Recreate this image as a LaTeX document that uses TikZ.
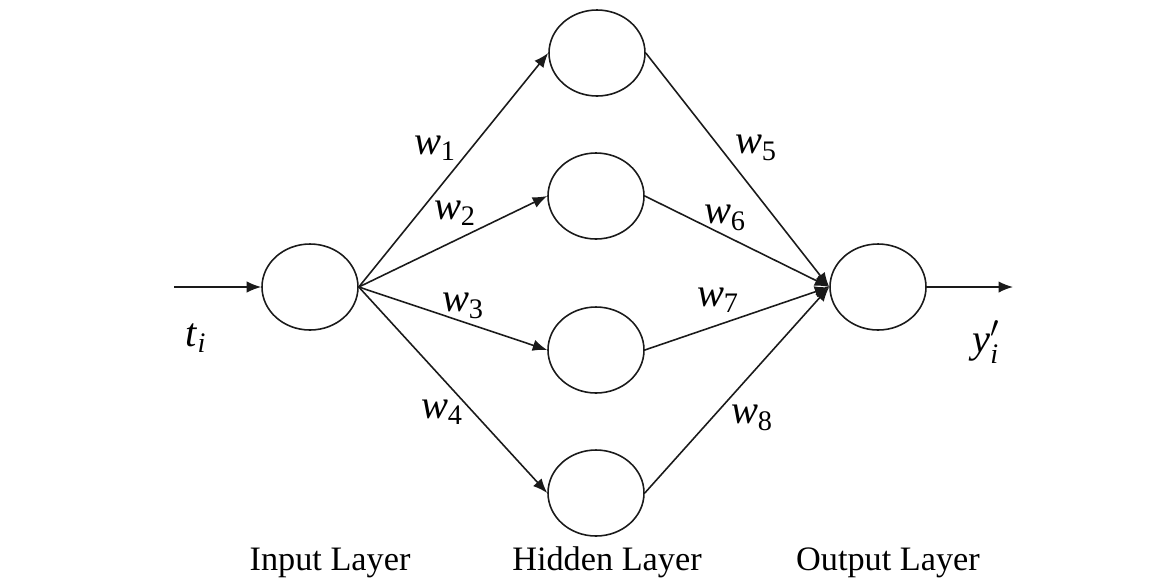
\documentclass[tikz,border=0pt]{standalone}
\usepackage{amsmath}
\usepackage{fontspec}
\setmainfont{Liberation Serif}
\usepackage{tikz}
\usetikzlibrary{arrows.meta,positioning,shapes.geometric}
\definecolor{NetLine}{HTML}{1A1A1A}
\newcommand{\wlab}[1]{\textit{w}\textsubscript{#1}}
\tikzset{
  link/.style={-{Latex[length=2.9mm,width=2.3mm]}, line width=0.9pt, draw=NetLine},
  neuron/.style={ellipse, draw=NetLine, line width=0.9pt, fill=white,
                 minimum width=1.92cm, minimum height=1.72cm, inner sep=0pt},
  weight/.style={font=\fontsize{23}{27}\selectfont, inner sep=1pt},
  layer/.style={font=\fontsize{19.5}{23}\selectfont, anchor=base, inner sep=0pt},
}

\begin{document}
\begin{tikzpicture}
    \useasboundingbox (0,0) rectangle (23.42,-11.54);
    \node[neuron] (in) at (6.2,-5.74) {};
    \node[neuron] (h1) at (11.94,-1.06) {};
    \node[neuron] (h2) at (11.92,-3.92) {};
    \node[neuron] (h3) at (11.92,-7.0) {};
    \node[neuron] (h4) at (11.92,-9.86) {};
    \node[neuron] (out) at (17.56,-5.74) {};
    \coordinate (src) at (3.48,-5.74);
    \coordinate (dst) at (20.26,-5.74);
    \draw[link] (src) -- (in);
    \draw[link] (in.east) -- (h1.west);
    \draw[link] (in.east) -- (h2.west);
    \draw[link] (in.east) -- (h3.west);
    \draw[link] (in.east) -- (h4.west);
    \draw[link] (h1.east) -- (out.west);
    \draw[link] (h2.east) -- (out.west);
    \draw[link] (h3.east) -- (out.west);
    \draw[link] (h4.east) -- (out.west);
    \draw[link] (out) -- (dst);
    \node[weight] (ti) at (3.92,-6.76) {\textit{t}\textsubscript{\textit{i}}};
    \node[weight] (yi) at (19.72,-6.84) {$\textit{y}_{\textit{i}}^{\prime}$};
    \node[weight] (w1) at (8.7,-2.96) {\wlab{1}};
    \node[weight] (w2) at (9.1,-4.26) {\wlab{2}};
    \node[weight] (w3) at (9.26,-6.12) {\wlab{3}};
    \node[weight] (w4) at (8.84,-8.24) {\wlab{4}};
    \node[weight] (w5) at (15.12,-2.96) {\wlab{5}};
    \node[weight] (w6) at (14.5,-4.36) {\wlab{6}};
    \node[weight] (w7) at (14.36,-6.0) {\wlab{7}};
    \node[weight] (w8) at (15.04,-8.36) {\wlab{8}};
    \node[layer] (inlab) at (6.6,-11.4) {Input Layer};
    \node[layer] (hidlab) at (12.14,-11.4) {Hidden Layer};
    \node[layer] (outlab) at (17.76,-11.4) {Output Layer};
  \end{tikzpicture}
\end{document}
